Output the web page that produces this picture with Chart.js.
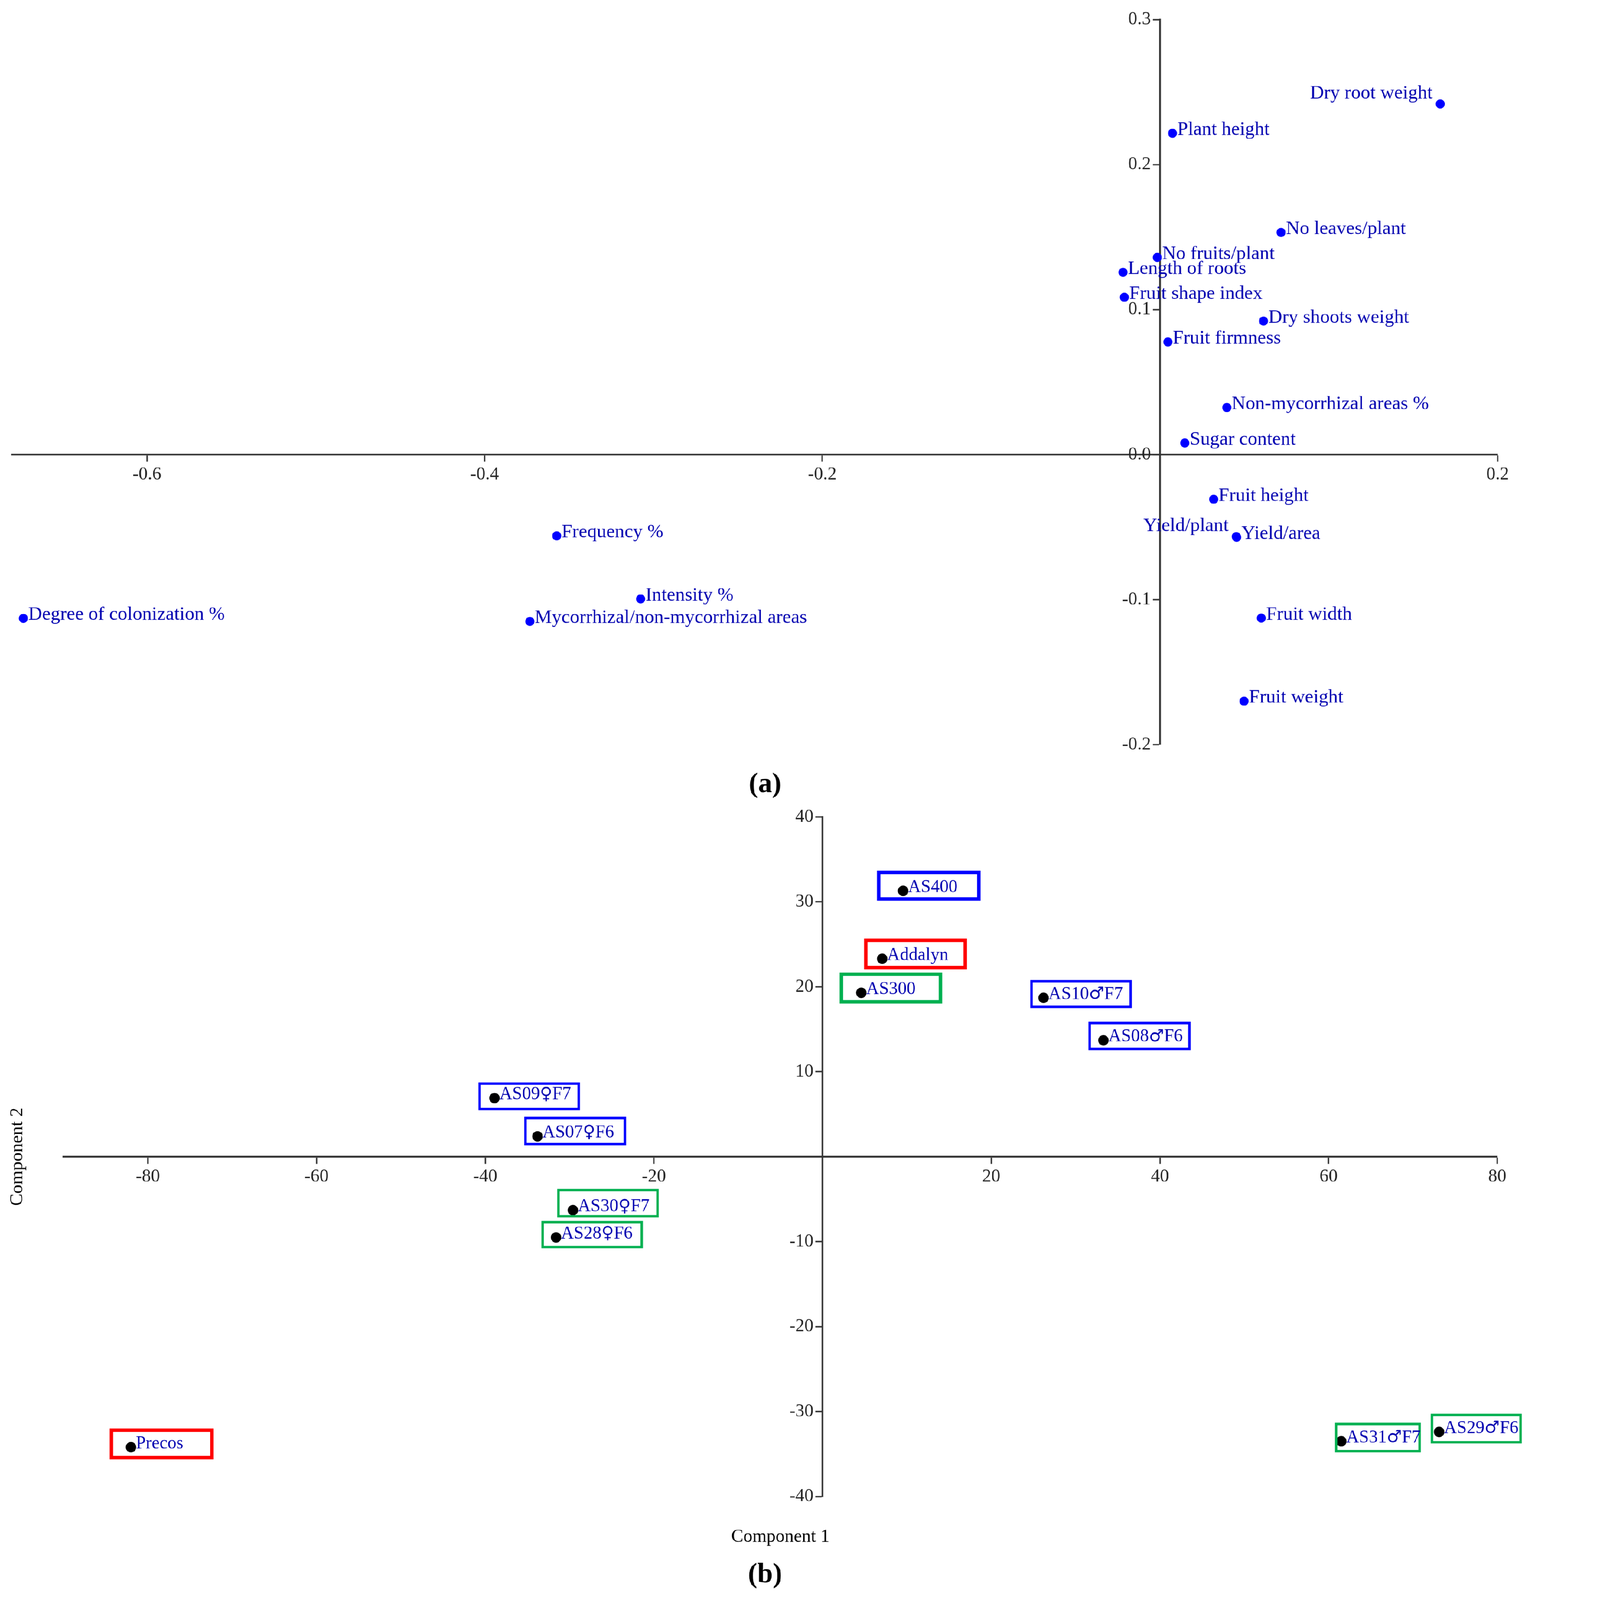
<!DOCTYPE html>
<html>
<head>
<meta charset="utf-8">
<title>PCA loadings and scores</title>
<script src="https://cdn.jsdelivr.net/npm/chart.js@4.4.1/dist/chart.umd.min.js"></script>
<style>
  html, body { margin: 0; padding: 0; background: #fff; overflow: hidden; }
  #wrap { position: relative; width: 4386px; height: 4587px; transform-origin: 0 0; }
  canvas { position: absolute; left: 0; }
  #loadingChart { top: 0; }
  #scoreChart { top: 2300px; }
</style>
</head>
<body>
<div id="wrap">
  <canvas id="loadingChart" width="4386" height="2300"></canvas>
  <canvas id="scoreChart" width="4386" height="2287"></canvas>
</div>
<script>
// (a) variable loadings
var loadingNames = ["Dry root weight", "Plant height", "No leaves/plant", "No fruits/plant",
    "Length of roots", "Fruit shape index", "Dry shoots weight", "Fruit firmness",
    "Non-mycorrhizal areas %", "Sugar content", "Fruit height", "Yield/plant", "Yield/area",
    "Fruit width", "Fruit weight", "Frequency %", "Intensity %",
    "Mycorrhizal/non-mycorrhizal areas", "Degree of colonization %"];
var loadingPC1 = [0.166, 0.0074, 0.0717, -0.0016, -0.0219, -0.0211, 0.0613, 0.0047,
    0.0396, 0.0147, 0.0318, 0.0452, 0.0454, 0.060, 0.0498, -0.3573, -0.3076, -0.3732, -0.6732];
var loadingPC2 = [0.2418, 0.2216, 0.1532, 0.136, 0.1257, 0.1085, 0.0921, 0.0777,
    0.0325, 0.008, -0.0308, -0.0565, -0.057, -0.1127, -0.170, -0.056, -0.0995, -0.115, -0.1129];
var loadingXTicks = [-0.6, -0.4, -0.2, 0.2];
var loadingYTicks = [-0.2, -0.1, 0.0, 0.1, 0.2, 0.3];

// (b) genotype scores
var scoreNames = ["AS400", "Addalyn", "AS300", "AS10\u2642F7", "AS08\u2642F6", "AS09\u2640F7",
    "AS07\u2640F6", "AS30\u2640F7", "AS28\u2640F6", "Precos", "AS31\u2642F7", "AS29\u2642F6"];
var scorePC1 = [9.55, 7.07, 4.59, 26.2, 33.3, -38.9, -33.8, -29.6, -31.6, -82.0, 61.5, 73.1];
var scorePC2 = [31.3, 23.3, 19.3, 18.7, 13.7, 6.9, 2.4, -6.3, -9.5, -34.2, -33.5, -32.4];
var scoreXTicks = [-80, -60, -40, -20, 20, 40, 60, 80];
var scoreYTicks = [-40, -30, -20, -10, 10, 20, 30, 40];

var serif = '"Liberation Serif", "Times New Roman", "DejaVu Serif", serif';
var symbolFont = '"DejaVu Sans", sans-serif';
var labelBlue = '#0000b0';

// fit the 4386 x 4587 drawing into whatever the window really is
var fit = Math.min((window.innerWidth || 4386) / 4386, (window.innerHeight || 4587) / 4587);
document.getElementById('wrap').style.transform = 'scale(' + fit + ')';
var dpr = fit * (window.devicePixelRatio || 1);

function points(xs, ys) {
    return xs.map(function (v, i) { return { x: v, y: ys[i] }; });
}

// centred axis crossing the other one at zero
function crossAxis(min, max, cross, tickList, fmt) {
    return {
        type: 'linear',
        min: min,
        max: max,
        position: cross,
        afterBuildTicks: function (scale) {
            scale.ticks = tickList.map(function (v) { return { value: v }; });
        },
        grid: {
            drawOnChartArea: false,
            drawTicks: true,
            tickLength: 18,
            tickWidth: 4,
            tickColor: '#333'
        },
        border: { display: true, color: '#333', width: 5 },
        ticks: {
            autoSkip: false,
            maxRotation: 0,
            padding: 8,
            color: '#222',
            font: { family: serif, size: 52 },
            callback: fmt
        }
    };
}

// y labels on a centred axis sit right on the line, so push them off with a space
function yLabel(digits) {
    return function (v) { return (digits ? v.toFixed(digits) : String(v)) + '\u2002'; };
}

// text with the gender signs drawn in a font where they are full height
function drawName(ctx, text, x, y, size, alignRight) {
    var parts = text.split(/([\u2640\u2642])/).filter(function (s) { return s.length; });
    var fonts = parts.map(function (s) {
        return /[\u2640\u2642]/.test(s) ? (size * 0.95) + 'px ' + symbolFont : size + 'px ' + serif;
    });
    var widths = parts.map(function (s, i) { ctx.font = fonts[i]; return ctx.measureText(s).width; });
    var total = widths.reduce(function (a, b) { return a + b; }, 0);
    var cx = alignRight ? x - total : x;
    ctx.textAlign = 'left';
    parts.forEach(function (s, i) {
        ctx.font = fonts[i];
        ctx.fillText(s, cx, y);
        cx += widths[i];
    });
}

// names next to the points, optional frames around them
var pointLabels = {
    id: 'pointLabels',
    afterDatasetsDraw: function (chart, args, opts) {
        var ctx = chart.ctx;
        var meta = chart.getDatasetMeta(0);
        var names = chart.data.labels;
        var boxes = opts.boxes || {};
        var leftSide = opts.leftSide || [];
        ctx.save();
        meta.data.forEach(function (pt, i) {
            var b = boxes[names[i]];
            if (b) {
                ctx.strokeStyle = b.color;
                ctx.lineWidth = b.lw;
                ctx.strokeRect(pt.x + b.dx + b.lw / 2, pt.y + b.dy + b.lw / 2, b.w - b.lw, b.h - b.lw);
            }
        });
        ctx.fillStyle = labelBlue;
        ctx.textBaseline = 'middle';
        meta.data.forEach(function (pt, i) {
            if (leftSide.indexOf(names[i]) >= 0) {
                drawName(ctx, names[i], pt.x - 22, pt.y - 30, opts.size, true);
            } else {
                drawName(ctx, names[i], pt.x + 14, pt.y - 10, opts.size, false);
            }
        });
        ctx.restore();
    }
};

// panel letters and axis titles
var panelText = {
    id: 'panelText',
    afterDraw: function (chart, args, opts) {
        var ctx = chart.ctx;
        var area = chart.chartArea;
        ctx.save();
        ctx.fillStyle = '#000';
        ctx.textAlign = 'center';
        ctx.textBaseline = 'middle';
        (opts.items || []).forEach(function (it) {
            ctx.font = (it.bold ? 'bold ' : '') + it.size + 'px ' + serif;
            if (it.rotate) {
                ctx.save();
                ctx.translate(it.x, (area.top + area.bottom) / 2);
                ctx.rotate(-Math.PI / 2);
                ctx.fillText(it.text, 0, 0);
                ctx.restore();
            } else {
                var x = it.onArea ? (area.left + area.right) / 2 : chart.width / 2;
                ctx.fillText(it.text, x, area.bottom + it.below);
            }
        });
        ctx.restore();
    }
};

var loadingChart = new Chart(document.getElementById('loadingChart'), {
    type: 'scatter',
    data: {
        labels: loadingNames,
        datasets: [{
            data: points(loadingPC1, loadingPC2),
            backgroundColor: '#0000ff',
            borderWidth: 0,
            pointRadius: 13
        }]
    },
    options: {
        responsive: false,
        animation: false,
        devicePixelRatio: dpr,
        layout: { padding: { left: 34, right: 93, top: 56, bottom: 166 } },
        scales: {
            x: crossAxis(-0.68, 0.2, { y: 0 }, loadingXTicks, function (v) { return v.toFixed(1); }),
            y: crossAxis(-0.2, 0.3, { x: 0 }, loadingYTicks, yLabel(1))
        },
        plugins: {
            legend: { display: false },
            tooltip: { enabled: false },
            pointLabels: { size: 55, leftSide: ["Dry root weight", "Yield/plant"] },
            panelText: { items: [{ text: '(a)', size: 80, bold: true, below: 115 }] }
        }
    },
    plugins: [pointLabels, panelText]
});

var scoreChart = new Chart(document.getElementById('scoreChart'), {
    type: 'scatter',
    data: {
        labels: scoreNames,
        datasets: [{
            data: points(scorePC1, scorePC2),
            backgroundColor: '#000',
            borderWidth: 0,
            pointRadius: 15
        }]
    },
    options: {
        responsive: false,
        animation: false,
        devicePixelRatio: dpr,
        layout: { padding: { left: 182, right: 94, top: 42, bottom: 297 } },
        scales: {
            x: crossAxis(-90, 80, { y: 0 }, scoreXTicks, function (v) { return v; }),
            y: crossAxis(-40, 40, { x: 0 }, scoreYTicks, yLabel(0))
        },
        plugins: {
            legend: { display: false },
            tooltip: { enabled: false },
            pointLabels: {
                size: 51,
                boxes: {
                    "AS400":   { color: '#0000ff', lw: 10, dx: -75, dy: -58, w: 297, h: 86 },
                    "Addalyn": { color: '#ff0000', lw: 10, dx: -52, dy: -58, w: 295, h: 88 },
                    "AS300":   { color: '#00b050', lw: 10, dx: -62, dy: -58, w: 294, h: 89 },
                    "Precos":  { color: '#ff0000', lw: 10, dx: -61, dy: -54, w: 298, h: 89 },
                    "AS10\u2642F7": { color: '#0000ff', lw: 7, dx: -38, dy: -51, w: 291, h: 80 },
                    "AS08\u2642F6": { color: '#0000ff', lw: 7, dx: -43, dy: -53, w: 293, h: 81 },
                    "AS09\u2640F7": { color: '#0000ff', lw: 7, dx: -46, dy: -45, w: 291, h: 80 },
                    "AS07\u2640F6": { color: '#0000ff', lw: 7, dx: -38, dy: -56, w: 292, h: 82 },
                    "AS30\u2640F7": { color: '#00b050', lw: 7, dx: -45, dy: -61, w: 291, h: 82 },
                    "AS28\u2640F6": { color: '#00b050', lw: 7, dx: -42, dy: -47, w: 291, h: 78 },
                    "AS31\u2642F7": { color: '#00b050', lw: 7, dx: -18, dy: -53, w: 246, h: 85 },
                    "AS29\u2642F6": { color: '#00b050', lw: 7, dx: -24, dy: -52, w: 261, h: 85 }
                }
            },
            panelText: {
                items: [
                    { text: 'Component 1', size: 52, below: 116, onArea: true },
                    { text: '(b)', size: 80, bold: true, below: 226 },
                    { text: 'Component 2', size: 52, rotate: true, x: 50 }
                ]
            }
        }
    },
    plugins: [pointLabels, panelText]
});
</script>
</body>
</html>
